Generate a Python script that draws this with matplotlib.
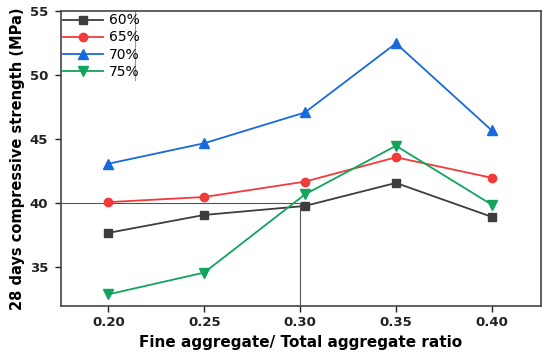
import matplotlib
import matplotlib.pyplot as plt

matplotlib.use("Agg")

ratio = [0.20, 0.25, 0.3025, 0.35, 0.40]
s60 = [37.7, 39.1, 39.8, 41.6, 38.95]
s65 = [40.1, 40.5, 41.7, 43.6, 42.0]
s70 = [43.1, 44.7, 47.1, 52.5, 45.7]
s75 = [32.9, 34.6, 40.7, 44.5, 39.9]
labels = ["60%", "65%", "70%", "75%"]
xticks = [0.20, 0.25, 0.30, 0.35, 0.40]
yticks = [35, 40, 45, 50, 55]

fig = plt.figure(figsize=(5.5, 3.54), dpi=100)
ax = fig.add_axes([0.110, 0.136, 0.873, 0.832])

styles = [("#3d3d3d", "s", 5.5), ("#f23a3a", "o", 6), ("#1769dc", "^", 6.5), ("#12a35c", "v", 6.5)]
for ys, lab, (c, m, ms) in zip([s60, s65, s70, s75], labels, styles):
    ax.plot(ratio, ys, color=c, marker=m, markersize=ms, lw=1.3, label=lab)

# guide lines at 0.30 / 40 MPa
ax.plot([0.175, 0.30], [40, 40], color="#555555", lw=0.8, zorder=1)
ax.plot([0.30, 0.30], [32, 40], color="#555555", lw=0.8, zorder=1)

ax.set_xlim(0.175, 0.4255)
ax.set_ylim(32, 55)
ax.set_xticks(xticks)
ax.set_xticklabels([f"{t:.2f}" for t in xticks])
ax.set_yticks(yticks)
ax.tick_params(direction="out", length=4, width=1, labelsize=9.5, colors="#222222")
ax.tick_params(axis="y", pad=5)
for lab in ax.get_xticklabels() + ax.get_yticklabels():
    lab.set_fontweight("bold")
for sp in ax.spines.values():
    sp.set_color("#444444")
    sp.set_linewidth(1.2)

ax.set_xlabel("Fine aggregate/ Total aggregate ratio", fontsize=11, fontweight="bold", labelpad=4)
ax.set_ylabel("28 days compressive strength (MPa)", fontsize=10.5, fontweight="bold", labelpad=3)

leg = ax.legend(loc="upper left", frameon=False, fontsize=10, handlelength=2.9,
                borderaxespad=0.0, borderpad=0.15, labelspacing=0.22, handletextpad=0.45)
ax.plot([0.155, 0.155], [0.767, 1.0], transform=ax.transAxes, color="#999999", lw=0.8)

fig.savefig("out.png", dpi=100)
